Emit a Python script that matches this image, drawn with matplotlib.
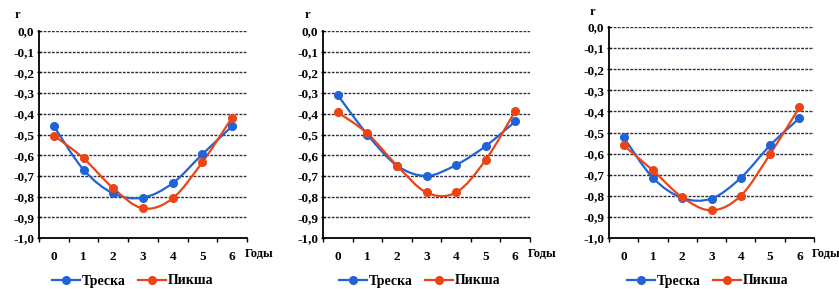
import numpy as np
import matplotlib
matplotlib.use("Agg")
import matplotlib.pyplot as plt
from matplotlib.path import Path
from matplotlib.patches import PathPatch
from matplotlib.lines import Line2D

plt.rcParams['font.family'] = ['Liberation Serif', 'DejaVu Serif']
plt.rcParams['font.weight'] = 'bold'
plt.rcParams['font.size'] = 9

years = [0, 1, 2, 3, 4, 5, 6]
y_ticks = [0.0, -0.1, -0.2, -0.3, -0.4, -0.5, -0.6, -0.7, -0.8, -0.9, -1.0]

# три панели: треска и пикша
treska_1 = [-0.46, -0.67, -0.785, -0.805, -0.735, -0.595, -0.46]
piksha_1 = [-0.505, -0.615, -0.76, -0.857, -0.808, -0.633, -0.418]
treska_2 = [-0.31, -0.50, -0.65, -0.70, -0.647, -0.556, -0.437]
piksha_2 = [-0.393, -0.495, -0.65, -0.78, -0.78, -0.623, -0.387]
treska_3 = [-0.523, -0.715, -0.81, -0.813, -0.715, -0.561, -0.432]
piksha_3 = [-0.561, -0.68, -0.807, -0.869, -0.80, -0.603, -0.381]

BLUE = '#1f63d6'
ORANGE = '#ec4414'


def smooth_path(xs, ys):
    # сглаженная линия как в Excel (кривые Безье)
    p = np.column_stack([xs, ys]).astype(float)
    n = len(p)
    verts = [p[0]]
    codes = [Path.MOVETO]
    for i in range(n - 1):
        p0 = p[i - 1] if i > 0 else p[i]
        p3 = p[i + 2] if i + 2 < n else p[i + 1]
        c1 = p[i] + (p[i + 1] - p0) / 6
        c2 = p[i + 1] - (p3 - p[i]) / 6
        verts += [c1, c2, p[i + 1]]
        codes += [Path.CURVE4] * 3
    return Path(verts, codes)


fig = plt.figure(figsize=(8.39, 2.89), dpi=100)

panels = [
    (treska_1, piksha_1, [39, 31, 247, 238], (17, 15), 133),
    (treska_2, piksha_2, [323, 31, 530, 238], (307, 15), 420),
    (treska_3, piksha_3, [609, 27, 814, 238], (592, 12), 708),
]

W, H = 839, 289
for tr, pk, (x0, y0, x1, y1), rpos, leg_x in panels:
    ax = fig.add_axes([x0 / W, 1 - y1 / H, (x1 - x0) / W, (y1 - y0) / H])
    ax.set_xlim(-0.5, 6.5)
    ax.set_ylim(-1.0, 0.0)
    for yv in y_ticks[:-1]:
        ax.axhline(yv, color='#2e2e3e', lw=1.0, ls=(0, (2, 1)), zorder=1)
    for vals, col in [(tr, BLUE), (pk, ORANGE)]:
        ax.add_patch(PathPatch(smooth_path(years, vals), fc='none', ec=col, lw=1.6, zorder=3))
        ax.plot(years, vals, 'o', color=col, ms=5.5, zorder=4)
    ax.set_yticks(y_ticks)
    ax.set_yticklabels([('%.1f' % v).replace('.', ',') for v in y_ticks], fontsize=9.5)
    ax.set_xticks(years)
    ax.set_xticklabels([str(v) for v in years], fontsize=9.5)
    ax.set_xticks(np.arange(-0.5, 7, 1), minor=True)
    ax.tick_params(axis='x', which='major', length=0, pad=9)
    ax.tick_params(axis='x', which='minor', length=3, direction='out', width=1)
    ax.tick_params(axis='y', length=3, direction='inout', width=1, pad=2)
    for s in ['top', 'right']:
        ax.spines[s].set_visible(False)
    for s in ['left', 'bottom']:
        ax.spines[s].set_linewidth(1.3)
    ax.set_facecolor('none')
    fig.text((x1 + 12) / W, 1 - 254 / H, 'Годы', ha='center', va='center')
    fig.text(rpos[0] / W, 1 - rpos[1] / H, 'r', ha='center', va='center')
    handles = [Line2D([], [], color=BLUE, marker='o', ms=5.5, lw=1.6),
               Line2D([], [], color=ORANGE, marker='o', ms=5.5, lw=1.6)]
    fig.legend(handles, ['Треска', 'Пикша'], loc='center',
               bbox_to_anchor=(leg_x / W, 1 - 281 / H), ncol=2, frameon=False,
               handlelength=2.0, columnspacing=0.9, handletextpad=0.15,
               prop={'size': 10})

fig.savefig('out.png', dpi=100)
